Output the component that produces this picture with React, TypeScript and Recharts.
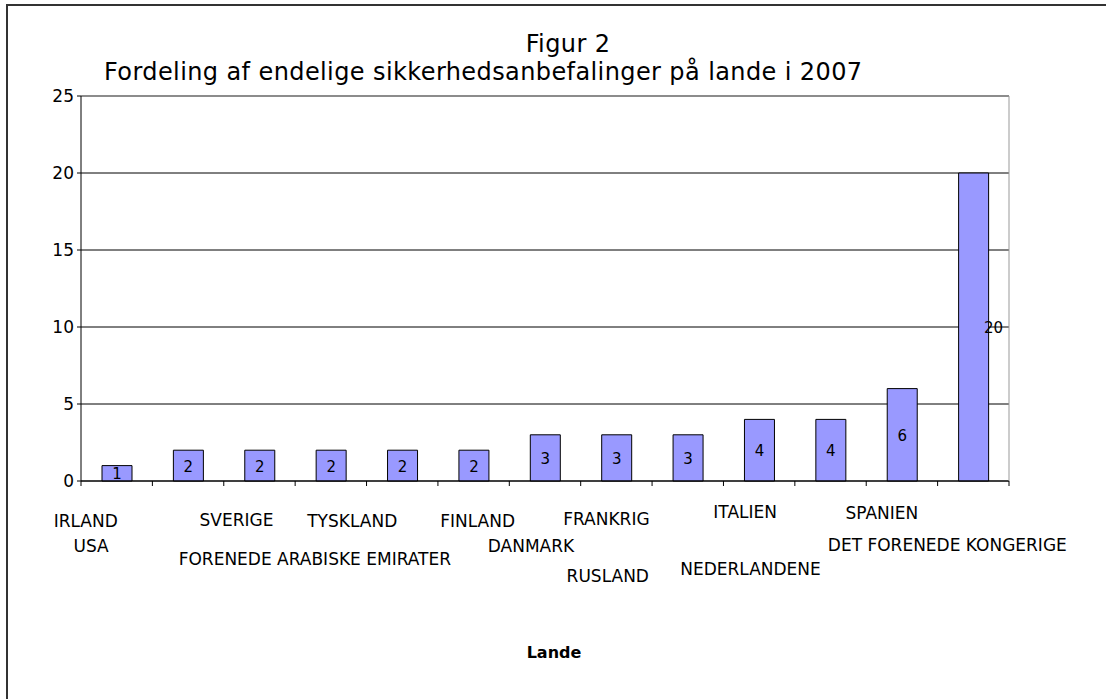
import React from 'react';
import { BarChart, Bar, XAxis, YAxis, CartesianGrid, ReferenceLine, LabelList } from 'recharts';

const countries = [
  'IRLAND',
  'USA',
  'SVERIGE',
  'FORENEDE ARABISKE EMIRATER',
  'TYSKLAND',
  'FINLAND',
  'DANMARK',
  'FRANKRIG',
  'RUSLAND',
  'ITALIEN',
  'NEDERLANDENE',
  'SPANIEN',
  'DET FORENEDE KONGERIGE',
];
const recommendations = [1, 2, 2, 2, 2, 2, 3, 3, 3, 4, 4, 6, 20];
const yTicks = [0, 5, 10, 15, 20, 25];

const titleLine1 = 'Figur 2';
const titleLine2 = 'Fordeling af endelige sikkerhedsanbefalinger på lande i 2007';
const xAxisTitle = 'Lande';

const data = countries.map((c, i) => ({ country: c, value: recommendations[i] }));

// staggered label layout (px offsets from category centre / baseline)
const labelDx = [-31, -97, -23, -16, -50, 4, -14, -10, -80, -14, -80, -20, -26];
const labelDy = [40, 65, 39, 78, 40, 40, 65, 38, 95, 31, 88, 32, 64];
const valueDx = [0, 0, 0, 0, 0, 0, 0, 0, 0, 0, 0, 0, 20];

const FONT = '"DejaVu Sans", Verdana, sans-serif';

const CountryTick = (props: any) => {
  const { x, y, index, payload, visibleTicksCount } = props;
  const i = typeof index === 'number' ? index : 0;
  const half = payload && typeof payload.offset === 'number' ? payload.offset : 0;
  const isLast = typeof visibleTicksCount === 'number' ? i === visibleTicksCount - 1 : i === countries.length - 1;
  return (
    <g>
      <line x1={x - half} x2={x - half} y1={y} y2={y + 5} stroke="#000" />
      {isLast ? <line x1={x + half} x2={x + half} y1={y} y2={y + 5} stroke="#000" /> : null}
      <text
        x={x + (labelDx[i] || 0)}
        y={y + (labelDy[i] || 0)}
        textAnchor="middle"
        dominantBaseline="central"
        fontSize={17}
        fontFamily={FONT}
        fill="#000"
      >
        {payload.value}
      </text>
    </g>
  );
};

const ValueLabel = (props: any) => {
  const { x, y, width, height, value, index } = props;
  const i = typeof index === 'number' ? index : 0;
  return (
    <text
      x={x + width / 2 + (valueDx[i] || 0)}
      y={y + height / 2 + 1}
      textAnchor="middle"
      dominantBaseline="central"
      fontSize={15}
      fontFamily={FONT}
      fill="#000"
    >
      {value}
    </text>
  );
};

const titleStyle: React.CSSProperties = {
  position: 'absolute',
  fontFamily: FONT,
  fontSize: 24,
  letterSpacing: 0.4,
  lineHeight: 1,
  whiteSpace: 'nowrap',
  color: '#000',
};

export default function App() {
  return (
    <div style={{ position: 'absolute', left: 0, top: 0, width: 1106, height: 699, overflow: 'hidden', background: '#fff' }}>
      <div
        style={{
          position: 'absolute',
          left: 6,
          top: 4,
          width: 1100,
          height: 695,
          borderLeft: '2px solid #333',
          borderTop: '2px solid #333',
          boxSizing: 'border-box',
        }}
      />
      <div style={{ ...titleStyle, left: 568, top: 44, transform: 'translate(-50%, -50%)' }}>{titleLine1}</div>
      <div style={{ ...titleStyle, left: 104, top: 72, transform: 'translate(0, -50%)' }}>{titleLine2}</div>
      <div
        style={{
          position: 'absolute',
          left: 554,
          top: 653,
          transform: 'translate(-50%, -50%)',
          fontFamily: FONT,
          fontSize: 16,
          lineHeight: 1,
          fontWeight: 'bold',
          whiteSpace: 'nowrap',
          color: '#000',
        }}
      >
        {xAxisTitle}
      </div>
      <div style={{ position: 'absolute', left: 0, top: 0 }}>
        <BarChart
          width={1106}
          height={699}
          data={data}
          margin={{ top: 96, right: 96, bottom: 217, left: 41 }}
        >
          <CartesianGrid vertical={false} stroke="#000" />
          <XAxis
            dataKey="country"
            interval={0}
            tickLine={false}
            tickSize={0}
            tickMargin={0}
            height={1}
            axisLine={{ stroke: '#000' }}
            tick={<CountryTick />}
          />
          <YAxis
            domain={[0, 25]}
            ticks={yTicks}
            interval={0}
            width={40}
            tickSize={4}
            tickMargin={3}
            axisLine={{ stroke: '#000' }}
            tickLine={{ stroke: '#000' }}
            tick={{ fontSize: 17, fill: '#000', fontFamily: FONT }}
          />
          <YAxis
            yAxisId="right"
            orientation="right"
            domain={[0, 25]}
            width={1}
            tick={false}
            tickLine={false}
            axisLine={{ stroke: '#999' }}
          />
          <ReferenceLine y={25} stroke="#999" />
          <Bar dataKey="value" fill="#9999FF" stroke="#000" strokeWidth={1} barSize={30} isAnimationActive={false}>
            <LabelList dataKey="value" content={<ValueLabel />} />
          </Bar>
        </BarChart>
      </div>
    </div>
  );
}
